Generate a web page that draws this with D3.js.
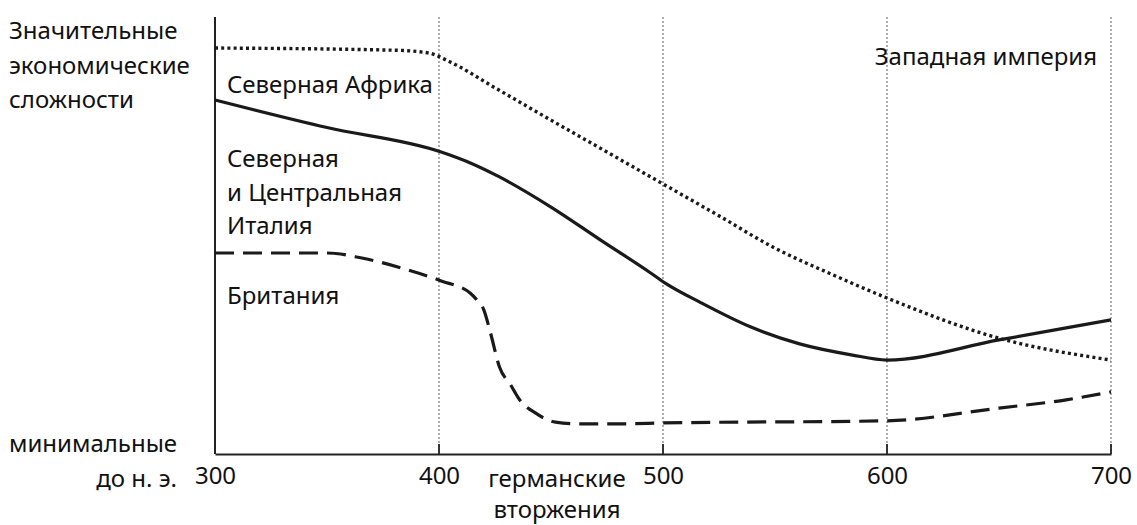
<!DOCTYPE html>
<html><head><meta charset="utf-8">
<script src="https://cdn.jsdelivr.net/npm/d3@7"></script>
<style>
html,body{margin:0;padding:0;background:#fff;}
svg text{font-family:"Noto Sans",sans-serif;fill:#111;}
</style></head>
<body><svg id="c" width="1137" height="525"></svg>
<script>
const years = [300, 400, 500, 600, 700];
const tickLabels = ["300", "400", "500", "600", "700"];

const westYears  = [300, 380, 395, 405, 425, 450, 475, 500, 525, 550, 575, 600, 650, 700];
const westValues = [92.9, 92.4, 91.8, 89.7, 83.8, 76.4, 69.1, 61.8, 54.5, 47.1, 41.2, 35.7, 26.5, 21.5];

const italyYears  = [300, 350, 401, 414, 427, 450, 472, 494, 501, 517, 539, 561, 584, 600, 650, 700];
const italyValues = [81.0, 74.7, 69.1, 66.6, 63.4, 56.5, 49.0, 41.6, 39.1, 34.6, 29.1, 25.2, 22.7, 21.5, 26.1, 30.7];

const britYears  = [300, 350, 365, 383, 401, 414, 417, 420, 423, 427, 432, 436, 443, 452, 463, 481, 500, 600, 650, 680, 700];
const britValues = [46.0, 46.0, 44.9, 42.6, 39.6, 36.8, 35.2, 33.0, 27.7, 19.9, 15.8, 12.4, 9.4, 7.3, 6.9, 6.9, 7.1, 7.6, 10.5, 12.4, 14.2];

const yAxisLines = ["Значительные", "экономические", "сложности"];
const yMinLabel = "минимальные";
const eraLabel = "до н. э.";
const invasionLines = ["германские", "вторжения"];
const seriesLabels = {
  west: ["Западная империя"],
  africa: ["Северная Африка"],
  italy: ["Северная", "и Центральная", "Италия"],
  brit: ["Британия"]
};

const svg = d3.select("#c");
const x = d3.scaleLinear().domain([300, 700]).range([215, 1111]);
const y = d3.scaleLinear().domain([0, 100]).range([454, 17]);
const fs = 24;

// grid lines
svg.append("g").selectAll("line").data(years.slice(1)).join("line")
  .attr("x1", d => x(d)).attr("x2", d => x(d))
  .attr("y1", y(100)).attr("y2", y(0))
  .attr("stroke", "#9a9a9a").attr("stroke-width", 1.6).attr("stroke-dasharray", "2,2");

// bottom axis
const xAxis = d3.axisBottom(x).tickValues(years).tickFormat((d, i) => tickLabels[i]).tickSize(0).tickPadding(10);
const gx = svg.append("g").attr("transform", `translate(0,${y(0)})`).call(xAxis);
gx.select(".domain").attr("stroke", "#222").attr("stroke-width", 1.8);
gx.selectAll("text").style("font-family", '"Noto Sans",sans-serif').style("font-size", fs + "px").attr("fill", "#111").attr("dy", "0.85em");
svg.append("g").selectAll("line").data(years.slice(1)).join("line")
  .attr("x1", d => x(d)).attr("x2", d => x(d))
  .attr("y1", y(0) - 10).attr("y2", y(0))
  .attr("stroke", "#222").attr("stroke-width", 1.8);

// y axis
svg.append("line").attr("x1", x(300)).attr("x2", x(300)).attr("y1", y(100)).attr("y2", y(0))
  .attr("stroke", "#222").attr("stroke-width", 2);

const line = d3.line().x(d => x(d[0])).y(d => y(d[1])).curve(d3.curveMonotoneX);
const zip = (a, b) => a.map((v, i) => [v, b[i]]);

svg.append("path").datum(zip(westYears, westValues)).attr("d", line)
  .attr("fill", "none").attr("stroke", "#1a1a1a").attr("stroke-width", 3.4).attr("stroke-dasharray", "3,3.2");
svg.append("path").datum(zip(italyYears, italyValues)).attr("d", line)
  .attr("fill", "none").attr("stroke", "#1a1a1a").attr("stroke-width", 3.2);
svg.append("path").datum(zip(britYears, britValues)).attr("d", line)
  .attr("fill", "none").attr("stroke", "#1a1a1a").attr("stroke-width", 3.2).attr("stroke-dasharray", "19,9");

function multi(lines, x0, y0, lh, anchor) {
  const t = svg.append("text").attr("x", x0).attr("y", y0).style("font-size", fs + "px").attr("text-anchor", anchor || "start");
  lines.forEach((l, i) => t.append("tspan").attr("x", x0).attr("y", y0 + i * lh).text(l));
  return t;
}
multi(yAxisLines, 9, 39, 34.5);
multi([yMinLabel], 9, 452, 0);
multi([eraLabel], 177, 487, 0, "end");
multi(invasionLines, 557, 487, 31, "middle");
multi(seriesLabels.west, 1097, 65, 0, "end");
multi(seriesLabels.africa, 227, 93, 0);
multi(seriesLabels.italy, 227, 167, 33.5);
multi(seriesLabels.brit, 227, 304, 0);
</script></body></html>
